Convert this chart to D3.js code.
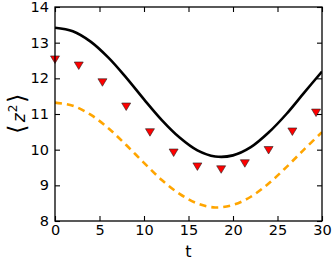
<!DOCTYPE html>
<html>
<head>
<meta charset="utf-8">
<script src="https://cdn.jsdelivr.net/npm/d3@7"></script>
<style>
  body { margin: 0; background: #fff; }
  text { font-family: "DejaVu Sans", sans-serif; }
</style>
</head>
<body>
<div id="chart"></div>
<script>
(function () {
  "use strict";

  // values
  var tLine = [0, 2, 4, 6, 8, 10, 12, 14, 16, 18, 20, 22, 24, 26, 28, 30],
    blackVals = [13.42, 13.32, 13.03, 12.58, 12.02, 11.41, 10.83, 10.34, 9.98, 9.81, 9.84, 10.07, 10.48, 11.00, 11.60, 12.19],
    orangeVals = [11.32, 11.23, 10.98, 10.60, 10.13, 9.63, 9.15, 8.76, 8.49, 8.38, 8.45, 8.68, 9.05, 9.51, 10.01, 10.49],
    tPoints = [0, 2.67, 5.33, 8, 10.67, 13.33, 16, 18.67, 21.33, 24, 26.67, 29.33],
    pointVals = [12.53, 12.36, 11.89, 11.21, 10.49, 9.92, 9.53, 9.45, 9.62, 9.99, 10.51, 11.04],
    xTicks = [0, 5, 10, 15, 20, 25, 30],
    yTicks = [8, 9, 10, 11, 12, 13, 14];

  var w = 332, h = 260,
    left = 55, right = 322, top = 7, bottom = 221;

  var svg = d3.select("#chart").append("svg")
    .attr("width", w)
    .attr("height", h);

  var x = d3.scaleLinear().domain([0, 30]).range([left, right]),
    y = d3.scaleLinear().domain([8, 14]).range([bottom, top]);

  var line = d3.line()
    .x(function(d) { return x(d[0]); })
    .y(function(d) { return y(d[1]); })
    .curve(d3.curveCatmullRom);

  var plot = svg.append("g");
  plot.append("clipPath").attr("id", "clip")
    .append("rect").attr("x", left).attr("y", top)
    .attr("width", right - left).attr("height", bottom - top);

  var lines = plot.append("g").attr("clip-path", "url(#clip)");

  lines.append("path")
    .datum(d3.zip(tLine, orangeVals))
    .attr("d", line)
    .attr("fill", "none")
    .attr("stroke", "#ffa500")
    .attr("stroke-width", 2.6)
    .attr("stroke-dasharray", "7,5");

  lines.append("path")
    .datum(d3.zip(tLine, blackVals))
    .attr("d", line)
    .attr("fill", "none")
    .attr("stroke", "#000")
    .attr("stroke-width", 2.6);

  // down triangles
  plot.selectAll(".pt")
    .data(d3.zip(tPoints, pointVals))
    .enter().append("path")
    .attr("class", "pt")
    .attr("transform", function(d) { return "translate(" + x(d[0]) + "," + y(d[1]) + ")"; })
    .attr("d", "M-4.5,-3.5L4.5,-3.5L0,4Z")
    .attr("fill", "#ff0000")
    .attr("stroke", "#222")
    .attr("stroke-width", 0.6);

  // frame
  svg.append("rect")
    .attr("x", left).attr("y", top)
    .attr("width", right - left).attr("height", bottom - top)
    .attr("fill", "none").attr("stroke", "#000").attr("stroke-width", 1.3);

  function styleAxis(g) {
    g.select(".domain").remove();
    g.selectAll(".tick line").attr("stroke", "#000").attr("stroke-width", 1.1);
    g.selectAll(".tick text").attr("fill", "#000").attr("font-size", 14.5)
      .attr("font-family", "DejaVu Sans, sans-serif");
  }

  svg.append("g").attr("transform", "translate(0," + bottom + ")")
    .call(d3.axisBottom(x).tickValues(xTicks).tickSize(-5).tickPadding(4).tickFormat(d3.format("d")))
    .call(styleAxis);
  svg.append("g").attr("transform", "translate(0," + top + ")")
    .call(d3.axisTop(x).tickValues(xTicks).tickSize(-5).tickFormat(""))
    .call(styleAxis);
  svg.append("g").attr("transform", "translate(" + left + ",0)")
    .call(d3.axisLeft(y).tickValues(yTicks).tickSize(-5).tickPadding(6).tickFormat(d3.format("d")))
    .call(styleAxis);
  svg.append("g").attr("transform", "translate(" + right + ",0)")
    .call(d3.axisRight(y).tickValues(yTicks).tickSize(-5).tickFormat(""))
    .call(styleAxis);

  // axis labels
  svg.append("text")
    .attr("x", (left + right) / 2).attr("y", 257)
    .attr("text-anchor", "middle")
    .attr("font-size", 16)
    .text("t");

  var yl = svg.append("text")
    .attr("transform", "translate(25," + ((top + bottom) / 2) + ") rotate(-90)")
    .attr("text-anchor", "middle")
    .attr("font-size", 17);
  yl.append("tspan").attr("font-size", 24).attr("font-weight", 200).text("\u27E8");
  yl.append("tspan").attr("font-style", "italic").attr("dx", 3).text("z");
  yl.append("tspan").attr("font-size", 12).attr("dy", -8).attr("dx", 1).text("2");
  yl.append("tspan").attr("font-size", 24).attr("font-weight", 200).attr("dy", 8).attr("dx", 2).text("\u27E9");
})();
</script>
</body>
</html>
